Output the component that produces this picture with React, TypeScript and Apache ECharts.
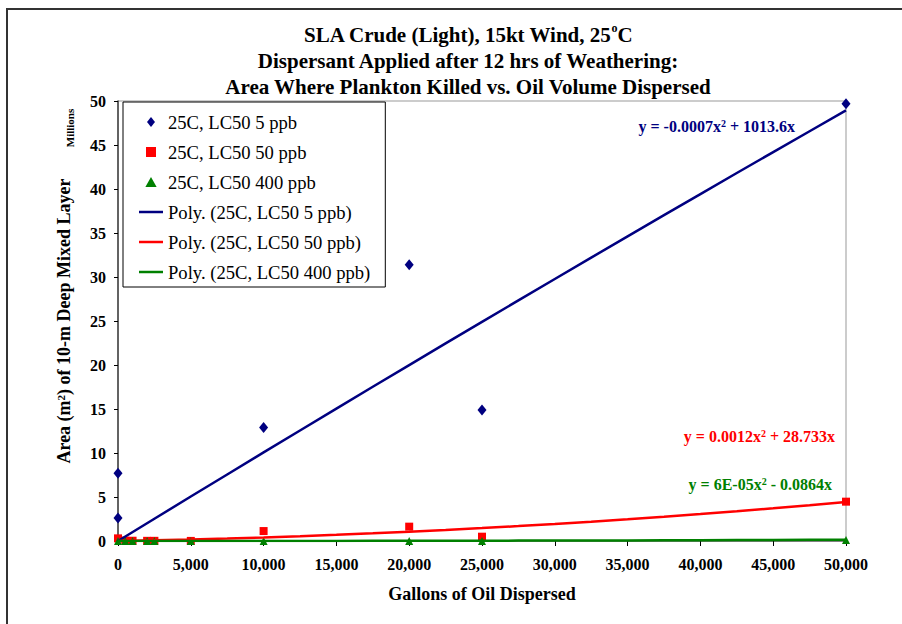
import React, { useEffect, useRef } from "react";
import * as echarts from "echarts";

const FONT = "'Liberation Serif', 'Times New Roman', serif";

const seriesNames = ["25C, LC50 5 ppb", "25C, LC50 50 ppb", "25C, LC50 400 ppb"];
const trendNames = ["Poly. (25C, LC50 5 ppb)", "Poly. (25C, LC50 50 ppb)", "Poly. (25C, LC50 400 ppb)"];

// Gallons of oil dispersed
const blueX = [0, 0, 10000, 20000, 25000, 50000];
// Area, millions of m2
const blueY = [7.7, 2.6, 12.9, 31.4, 14.9, 49.7];

const redX = [0, 500, 1000, 2000, 2500, 5000, 10000, 20000, 25000, 50000];
const redY = [0.3, 0.05, 0.03, 0.02, 0.02, 0.01, 1.13, 1.63, 0.49, 4.47];

const greenX = [0, 500, 1000, 2000, 2500, 5000, 10000, 20000, 25000, 50000];
const greenY = [0, 0, 0, 0, 0, 0, 0, 0, 0, 0.1];

// polynomial trendline coefficients shown on the chart: y = a*x^2 + b*x (m2)
const blueTrend = [-0.0007, 1013.6];
const redTrend = [0.0012, 28.733];
const greenTrend = [6e-5, -0.0864];
const trendX = [0, 2500, 5000, 7500, 10000, 12500, 15000, 17500, 20000, 22500, 25000, 27500, 30000, 32500, 35000, 37500, 40000, 42500, 45000, 47500, 50000];

const equations = [
  "y = -0.0007x{s|2} + 1013.6x",
  "y = 0.0012x{s|2} + 28.733x",
  "y = 6E-05x{s|2} - 0.0864x",
];

const colors = ["#000080", "#ff0000", "#008000"];

const pair = (xs: number[], ys: number[]) => xs.map((x, i) => [x, ys[i]]);
const trend = (c: number[]) => trendX.map((x) => [x, (c[0] * x * x + c[1] * x) / 1e6]);

export default function App() {
  const ref = useRef<HTMLDivElement>(null);
  useEffect(() => {
    if (!ref.current) return;
    const chart = echarts.init(ref.current, null, { renderer: "svg" });
    const eqStyle = (i: number, text: string, x: number, y: number) => ({
      type: "text",
      x,
      y,
      style: {
        text,
        align: "right",
        verticalAlign: "middle",
        fill: colors[i],
        font: `bold 16px ${FONT}`,
        rich: { s: { fill: colors[i], fontFamily: FONT, fontWeight: "bold", fontSize: 10, lineHeight: 12, verticalAlign: "top" } },
      },
      z: 100,
    });
    const lineIcon = "path://M0,0h24v2.5h-24z";
    chart.setOption({
      animation: false,
      backgroundColor: "#fff",
      title: {
        text:
          "{t|SLA Crude (Light), 15kt Wind, 25}{s|o}{t|C}\n{t|Dispersant Applied after 12 hrs of Weathering:}\n{t|Area Where Plankton Killed vs. Oil Volume Dispersed}",
        left: 463,
        textAlign: "center",
        top: 17,
        textStyle: {
          rich: {
            t: { fontFamily: FONT, fontWeight: "bold", fontSize: 21, lineHeight: 26, color: "#000" },
            s: { fontFamily: FONT, fontWeight: "bold", fontSize: 12, lineHeight: 16, verticalAlign: "top", color: "#000" },
          },
        },
      },
      grid: { left: 118, right: 56, top: 101, bottom: 83, show: true, borderColor: "#999", borderWidth: 1 },
      legend: {
        orient: "vertical",
        left: 123,
        top: 102,
        padding: [10, 15, 5, 16],
        itemWidth: 24,
        itemHeight: 10,
        itemGap: 10,
        borderColor: "#000",
        borderWidth: 1,
        backgroundColor: "#fff",
        textStyle: { fontFamily: FONT, fontSize: 18.6, lineHeight: 20, color: "#000" },
        data: [
          { name: seriesNames[0], icon: "path://M4,0L8,5L4,10L0,5Z" },
          { name: seriesNames[1], icon: "path://M0,0h9v9h-9z" },
          { name: seriesNames[2], icon: "path://M4.5,0L9,8H0Z" },
          { name: trendNames[0], icon: lineIcon },
          { name: trendNames[1], icon: lineIcon },
          { name: trendNames[2], icon: lineIcon },
        ],
      },
      xAxis: {
        type: "value",
        min: 0,
        max: 50000,
        interval: 5000,
        name: "Gallons of Oil Dispersed",
        nameLocation: "middle",
        nameGap: 44,
        nameTextStyle: { fontFamily: FONT, fontWeight: "bold", fontSize: 18, color: "#000" },
        axisLine: { lineStyle: { color: "#808080", width: 2 } },
        axisTick: { show: true, length: 5, lineStyle: { color: "#000" } },
        splitLine: { show: false },
        axisLabel: {
          margin: 15,
          fontFamily: FONT,
          fontWeight: "bold",
          fontSize: 16,
          color: "#000",
          formatter: (v: number) => v.toLocaleString("en-US"),
        },
      },
      yAxis: {
        type: "value",
        min: 0,
        max: 50,
        interval: 5,
        name: "Area (m{s|2}) of 10-m Deep Mixed Layer",
        nameLocation: "middle",
        nameRotate: 90,
        nameGap: 45,
        nameTextStyle: { fontFamily: FONT, fontWeight: "bold", fontSize: 18, color: "#000", rich: { s: { fontFamily: FONT, fontWeight: "bold", fontSize: 11, lineHeight: 14, verticalAlign: "top", color: "#000" } } },
        axisLine: { show: true, lineStyle: { color: "#404040", width: 1.5 } },
        axisTick: { show: true, length: 4, lineStyle: { color: "#000" } },
        splitLine: { show: false },
        axisLabel: { margin: 12, fontFamily: FONT, fontWeight: "bold", fontSize: 16, color: "#000" },
      },
      graphic: [
        {
          type: "rect",
          shape: { x: 7, y: 9, width: 1000, height: 1000 },
          style: { fill: "none", stroke: "#333", lineWidth: 2 },
          z: -10,
        },
        {
          type: "text",
          x: 70,
          y: 128,
          rotation: Math.PI / 2,
          style: { text: "Millions", align: "center", verticalAlign: "middle", font: `bold 11px ${FONT}`, fill: "#000" },
        },
        eqStyle(0, equations[0], 795, 126),
        eqStyle(1, equations[1], 835, 436),
        eqStyle(2, equations[2], 832, 484),
      ],
      series: [
        {
          name: seriesNames[0],
          type: "scatter",
          symbol: "diamond",
          symbolSize: [9, 11],
          itemStyle: { color: colors[0], opacity: 1 },
          data: pair(blueX, blueY),
          z: 3,
        },
        {
          name: seriesNames[1],
          type: "scatter",
          symbol: "rect",
          symbolSize: 8,
          itemStyle: { color: colors[1], opacity: 1 },
          data: pair(redX, redY),
          z: 3,
        },
        {
          name: seriesNames[2],
          type: "scatter",
          symbol: "triangle",
          symbolSize: 8,
          itemStyle: { color: colors[2], opacity: 1 },
          data: pair(greenX, greenY),
          z: 3,
        },
        {
          name: trendNames[0],
          type: "line",
          symbol: "none",
          lineStyle: { color: colors[0], width: 2.5 },
          itemStyle: { color: colors[0] },
          data: trend(blueTrend),
          z: 4,
        },
        {
          name: trendNames[1],
          type: "line",
          symbol: "none",
          lineStyle: { color: colors[1], width: 2.5 },
          itemStyle: { color: colors[1] },
          data: trend(redTrend),
          z: 4,
        },
        {
          name: trendNames[2],
          type: "line",
          symbol: "none",
          lineStyle: { color: colors[2], width: 2.5 },
          itemStyle: { color: colors[2] },
          data: trend(greenTrend),
          z: 4,
        },
      ],
    });
    return () => chart.dispose();
  }, []);
  return <div ref={ref} style={{ position: "fixed", left: 0, top: 0, width: 902, height: 624 }} />;
}
